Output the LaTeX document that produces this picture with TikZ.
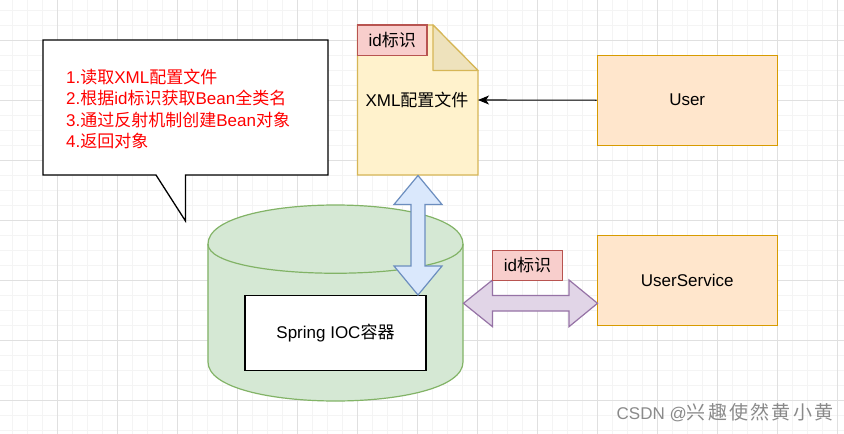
\documentclass[tikz,border=0pt]{standalone}
\usepackage{fontspec}
\setmainfont{Liberation Sans}
\newfontfamily\cjk{Noto Sans CJK SC}
\newfontfamily\wmcjk[LetterSpace=12]{Noto Sans CJK SC}
\newcommand\zh[1]{{\cjk #1}}
\usetikzlibrary{arrows.meta}
\definecolor{gridmajor}{HTML}{E0E0E0}
\definecolor{gridminor}{HTML}{F4F4F4}
\definecolor{docfill}{HTML}{FFF2CC}
\definecolor{docline}{HTML}{D6B656}
\definecolor{docfold}{HTML}{EEE2BC}
\definecolor{redfill}{HTML}{F8CECC}
\definecolor{redline}{HTML}{B85450}
\definecolor{orfill}{HTML}{FFE6CC}
\definecolor{orline}{HTML}{D79B00}
\definecolor{grfill}{HTML}{D5E8D4}
\definecolor{grline}{HTML}{82B366}
\definecolor{blfill}{HTML}{DAE8FC}
\definecolor{blline}{HTML}{6C8EBF}
\definecolor{pufill}{HTML}{E1D5E7}
\definecolor{puline}{HTML}{9673A6}
\definecolor{stepred}{HTML}{FF0000}
\definecolor{wmgray}{HTML}{8A8A8A}
\tikzset{
  minorline/.style={draw=gridminor, line width=0.8pt},
  majorline/.style={draw=gridmajor, line width=0.9pt},
  orbox/.style={draw=orline, fill=orfill, line width=1.2pt, minimum width=180pt, minimum height=90pt, inner sep=0pt, font=\fontsize{17}{20}\selectfont},
  tagbox/.style={draw=redline, fill=redfill, line width=1.1pt, minimum width=69.5pt, minimum height=30.5pt, inner sep=0pt, font=\fontsize{17}{20}\selectfont},
  plain/.style={font=\fontsize{17}{20}\selectfont, inner sep=0pt},
}
\begin{document}
\begin{tikzpicture}[x=1pt,y=-1pt]
\useasboundingbox (0,0) rectangle (844,434);
\fill[white] (0,0) rectangle (844,434);
% grid
\foreach \gx in {12,27,...,844} \draw[minorline] (\gx,0) -- (\gx,434);
\foreach \gy in {10,25,...,434} \draw[minorline] (0,\gy) -- (844,\gy);
\foreach \gx in {57,117,...,844} \draw[majorline] (\gx,0) -- (\gx,434);
\foreach \gy in {40,100,...,434} \draw[majorline] (0,\gy) -- (844,\gy);
% callout
\draw[black, fill=white, line width=1.3pt] (43,40) -- (328,40) -- (328,175) -- (185.5,175) -- (185.5,221) -- (156,175) -- (43,175) -- cycle;
\node[anchor=west, align=left, inner sep=0pt, text=stepred, font=\fontsize{17}{21.5}\selectfont] (steps) at (66,109)
 {1.\zh{读取}XML\zh{配置文件}\\2.\zh{根据}id\zh{标识获取}Bean\zh{全类名}\\3.\zh{通过反射机制创建}Bean\zh{对象}\\4.\zh{返回对象}};
% XML document
\draw[docline, fill=docfill, line width=1.2pt] (357.5,25) -- (433,25) -- (478,70.5) -- (478,175) -- (357.5,175) -- cycle;
\draw[docline, fill=docfold, line width=1.2pt, line join=round] (433,25) -- (433,70.5) -- (478,70.5) -- cycle;
\coordinate (docE) at (478,100);
\node[plain] (xmltext) at (417,100) {XML\zh{配置文件}};
\node[tagbox] (tagdoc) at (392.2,40.2) {id\zh{标识}};
% boxes
\node[orbox] (user) at (687.2,100.2) {User};
\node[orbox] (usersvc) at (687.2,280.5) {UserService};
\draw[black, line width=1.1pt, -{Stealth[length=11pt, width=9pt, inset=3pt]}] (user.west) -- (docE);
% cylinder
\draw[grline, fill=grfill, line width=1.2pt] (208,244) .. controls (208,192) and (463,192) .. (463,244) -- (463,362) .. controls (463,414) and (208,414) .. (208,362) -- cycle;
\draw[grline, line width=1.2pt] (208,244) .. controls (208,283) and (463,283) .. (463,244);
\node[draw=black, fill=white, line width=1.3pt, minimum width=181pt, minimum height=75pt, inner sep=0pt, font=\fontsize{17}{20}\selectfont] (ioc) at (335.5,332.7) {Spring IOC\zh{容器}};
% blue double arrow
\draw[blline, fill=blfill, line width=1.2pt, line join=miter] (418,175.5) -- (442,204.5) -- (425,204.5) -- (425,266) -- (442,266) -- (418,295) -- (394,266) -- (411,266) -- (411,204.5) -- (394,204.5) -- cycle;
% purple double arrow
\draw[puline, fill=pufill, line width=1.2pt, line join=miter] (463.5,303.3) -- (492.5,280) -- (492.5,295.5) -- (569,295.5) -- (569,280) -- (597.5,303.3) -- (569,326.7) -- (569,311) -- (492.5,311) -- (492.5,326.7) -- cycle;
\node[tagbox] (tagsvc) at (527.5,265.3) {id\zh{标识}};
% watermark
\node[anchor=west, inner sep=0pt, text=wmgray, font=\fontsize{17}{20}\selectfont] (wm) at (616.5,413) {CSDN @{\wmcjk\fontsize{19}{20}\selectfont 兴趣使然黄小黄}};
\end{tikzpicture}
\end{document}
